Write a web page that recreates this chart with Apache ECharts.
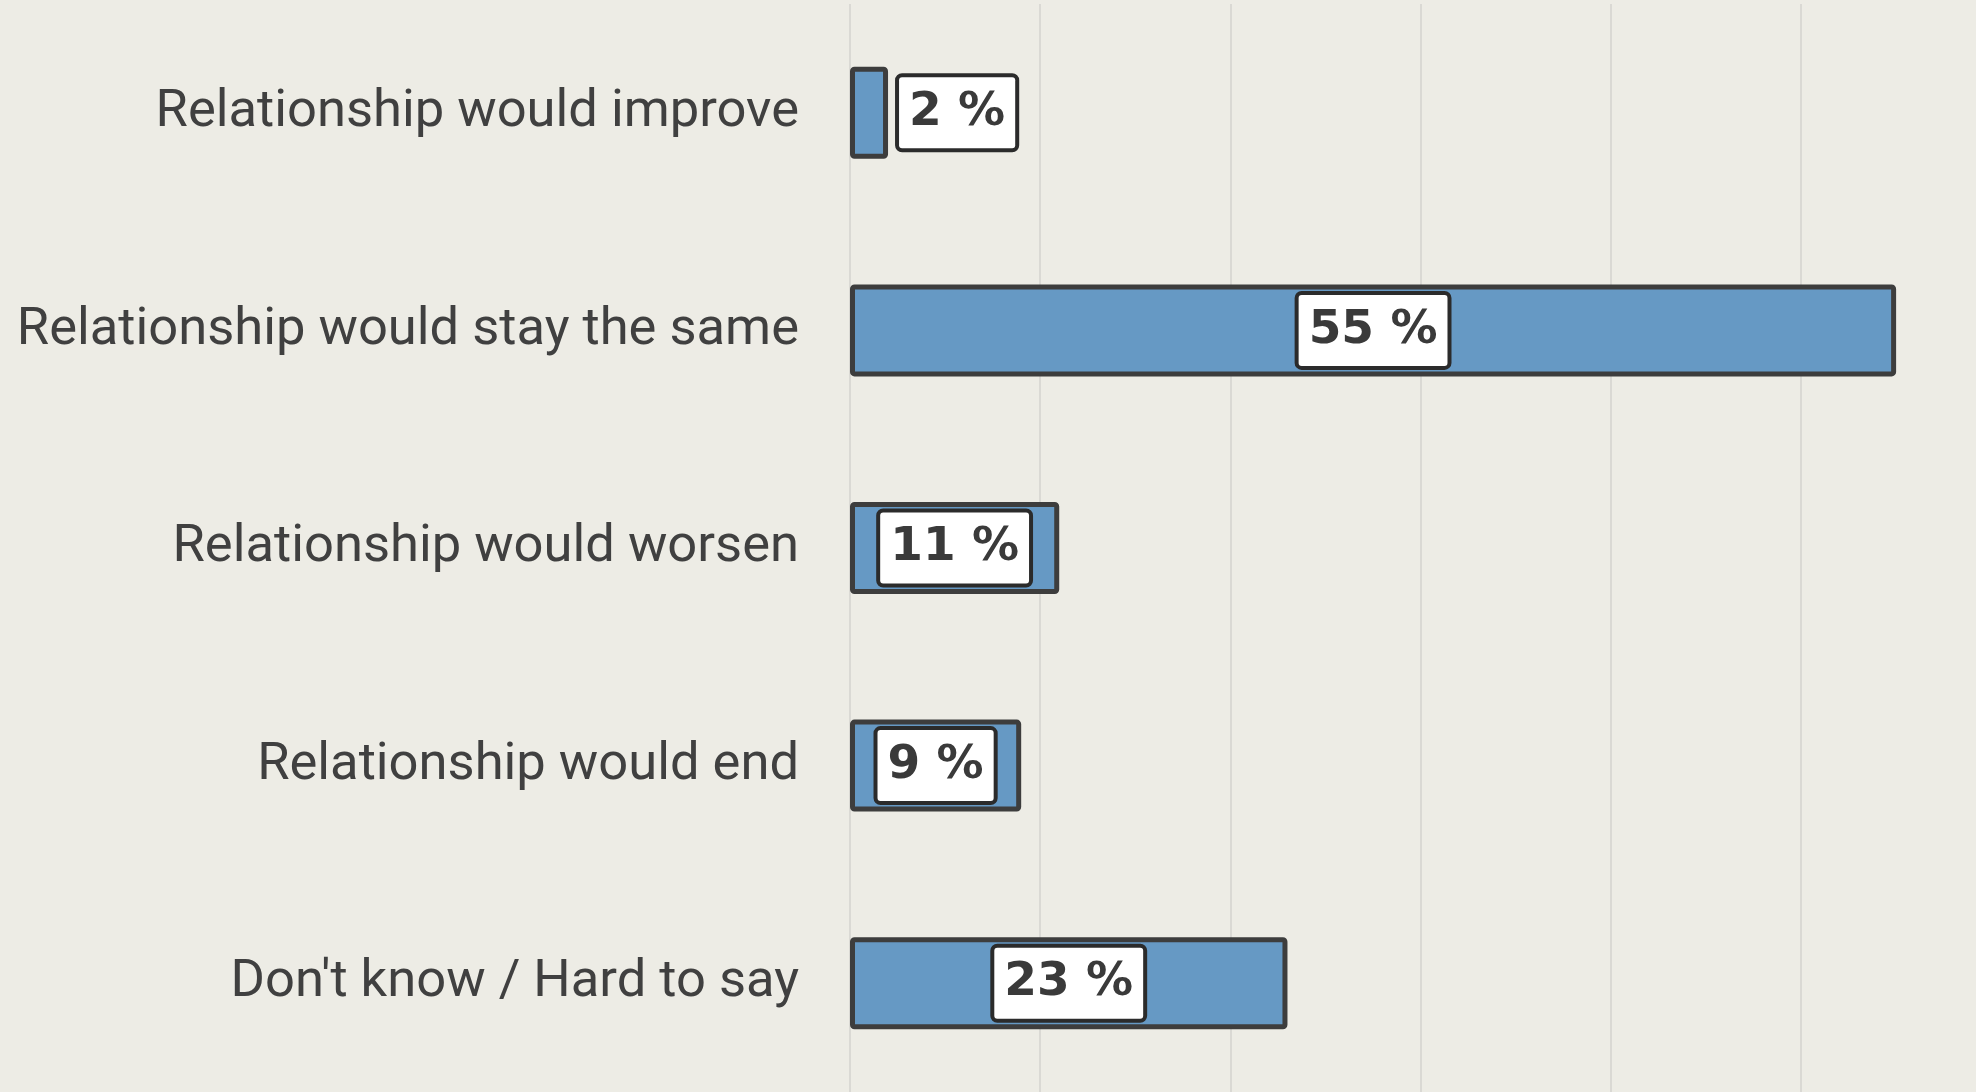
<!DOCTYPE html>
<html>
<head>
<meta charset="utf-8">
<script src="https://cdn.jsdelivr.net/npm/echarts@6/dist/echarts.min.js"></script>
<style>
html,body{margin:0;padding:0;background:#edece5;}
#chart{width:1976px;height:1092px;}
</style>
</head>
<body>
<div id="chart"></div>
<script>
const categories = ["Relationship would improve","Relationship would stay the same","Relationship would worsen","Relationship would end","Don't know / Hard to say"];
const values = [2, 55, 11, 9, 23];
const outsideLabels = [true, false, false, false, false];

const chart = echarts.init(document.getElementById('chart'));
chart.setOption({
  backgroundColor: '#edece5',
  animation: false,
  grid: {left: 850, right: 0, top: 4, bottom: -4, containLabel: false},
  xAxis: {
    type: 'value', min: 0, max: 59.2, interval: 10,
    axisLabel: {show: false}, axisLine: {show: false}, axisTick: {show: false},
    splitLine: {show: true, showMaxLine: false, lineStyle: {color: '#dad9d4', width: 2}}
  },
  yAxis: {
    type: 'category', data: categories, inverse: true,
    axisLine: {show: false}, axisTick: {show: false},
    axisLabel: {margin: 51, fontFamily: 'Roboto', fontSize: 52.5, color: '#404040', padding: [6, 0, 0, 0]}
  },
  series: [{
    type: 'bar',
    barWidth: 92,
    data: values.map((v, i) => ({
      value: v,
      label: {position: outsideLabels[i] ? 'right' : 'inside', distance: 11}
    })),
    itemStyle: {color: '#6699c4', borderColor: '#3d3d3d', borderWidth: 5, borderRadius: 2},
    label: {
      show: true,
      formatter: p => p.value + ' %',
      fontFamily: 'DejaVu Sans', fontWeight: 'bold', fontSize: 47, color: '#3a3a3a',
      backgroundColor: '#ffffff', borderColor: '#2b2b2b', borderWidth: 4, borderRadius: 3,
      padding: [11, 10, 10, 10], lineHeight: 50
    }
  }]
});
</script>
</body>
</html>
